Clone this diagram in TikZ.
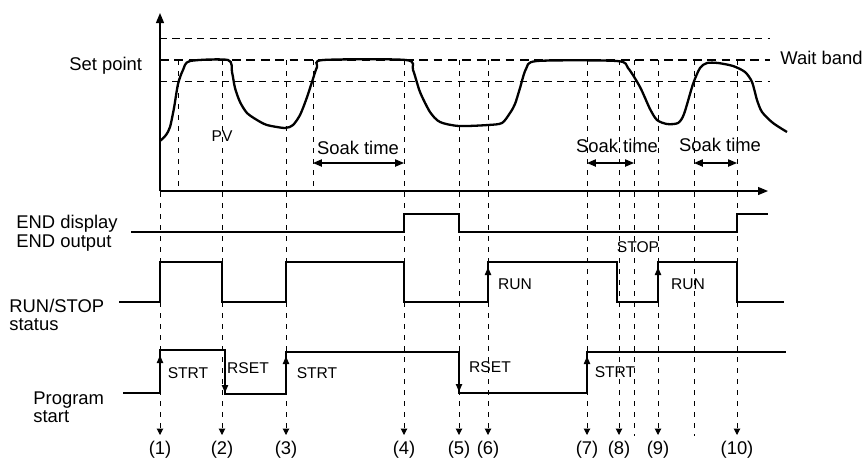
\documentclass[tikz,border=0pt]{standalone}
\usepackage{fontspec}
\setmainfont{Liberation Sans}
\usepackage{tikz}
\usetikzlibrary{arrows.meta}
\tikzset{
  sig/.style={line width=1.15pt, line join=miter},
  sigarrow/.style={line width=1.15pt, -{Triangle[length=4pt, width=3pt]}},
  guide/.style={line width=0.5pt, dash pattern=on 2.6pt off 2.9pt},
  marker/.style={guide, -{Triangle[length=3.2pt, width=3.2pt]}},
  band/.style={line width=0.5pt, dash pattern=on 3.6pt off 2.6pt},
  setline/.style={line width=0.9pt, dash pattern=on 4.4pt off 2.8pt},
  axis/.style={line width=0.6pt, -{Triangle[length=5pt, width=4pt]}},
  soak/.style={line width=0.6pt, {Triangle[length=4.4pt, width=3.6pt]}-{Triangle[length=4.4pt, width=3.6pt]}},
  biglbl/.style={font=\fontsize{9.2pt}{10pt}\selectfont, inner sep=0pt},
  smalllbl/.style={font=\fontsize{7.8pt}{9pt}\selectfont, inner sep=0pt},
}
\begin{document}
\begin{tikzpicture}[x=0.5pt, y=-0.5pt]
  \useasboundingbox (0,0) rectangle (865,457);
  % bands and axes
  \draw[band] (160,38) -- (770,38);
  \draw[setline] (160,60) -- (770,60);
  \draw[band] (160,81) -- (770,81);
  \draw[axis] (160,191) -- (160,13);
  \draw[axis] (160,191) -- (768,191);
  \node[biglbl, anchor=base west] (setpt) at (69,70) {Set point};
  \node[biglbl, anchor=base west] (waitband) at (780,64) {Wait band};
  % event guides
  \foreach \x in {178, 313} \draw[guide] (\x,60) -- (\x,191);
  \foreach \x in {634, 694} \draw[guide] (\x,60) -- (\x,436);
  \foreach \x/\n in {160/1, 222/2, 286/3, 404/4, 459/5, 488/6, 587/7, 619/8, 658/9, 737/10} {
    \draw[marker] (\x,60) -- (\x,435);
    \node[biglbl, anchor=base] (ev\n) at (\x,454) {(\n)};
  }
  % PV curve
  \draw[sig] plot[smooth, tension=0.45] coordinates {
    (160,141) (166,135) (170,127) (174,108) (178,84) (183,70) (190,61) (228,60)
    (232,72) (235,88) (240,102) (247,113) (257,120) (267,125) (285,128) (293,125)
    (300,115) (306,100) (312,82) (317,67) (323,60) (406,60) (413,70) (420,92)
    (430,112) (440,122) (459,126) (488,125) (502,123) (510,113) (515,104) (520,88)
    (526,69) (537,61) (617,61) (628,68) (640,87) (650,109) (657,120) (667,124)
    (678,123) (684,114) (693,84) (700,68) (707,63) (718,63) (733,66) (745,72)
    (752,82) (757,100) (762,112) (773,123) (787,132)};
  \node[smalllbl] (pvlbl) at (222,136) {PV};
  \node[biglbl] (soakA) at (358,148) {Soak time};
  \node[biglbl] (soakB) at (617,146) {Soak time};
  \node[biglbl] (soakC) at (720,145) {Soak time};
  \draw[soak] (313,163) -- (404,163);
  \draw[soak] (587,163) -- (634,163);
  \draw[soak] (694,163) -- (737,163);
  % END display / END output
  \node[biglbl, anchor=base west] (endA) at (16,228) {END display};
  \node[biglbl, anchor=base west] (endB) at (16,247) {END output};
  \draw[sig] (131,232) -- (404,232) -- (404,214) -- (459,214) -- (459,232)
    -- (737,232) -- (737,214) -- (768,214);
  % RUN/STOP status
  \node[biglbl, anchor=base west] (runA) at (9,312) {RUN/STOP};
  \node[biglbl, anchor=base west] (runB) at (9,330) {status};
  \draw[sig] (119,302) -- (160,302) -- (160,262) -- (222,262) -- (222,302)
    -- (286,302) -- (286,262) -- (404,262) -- (404,302) -- (488,302) -- (488,262)
    -- (617,262) -- (617,302) -- (658,302) -- (658,262) -- (737,262) -- (737,302)
    -- (784,302);
  \draw[sigarrow] (488,302) -- (488,267);
  \draw[sigarrow] (658,302) -- (658,267);
  \node[smalllbl] (runC) at (515,284) {RUN};
  \node[smalllbl] (stopA) at (638,247) {STOP};
  \node[smalllbl] (runD) at (688,284) {RUN};
  % Program start
  \node[biglbl, anchor=base west] (progA) at (33,404) {Program};
  \node[biglbl, anchor=base west] (progB) at (33,422) {start};
  \draw[sig] (123,393) -- (160,393) -- (160,350) -- (225,350) -- (225,394)
    -- (286,394) -- (286,352) -- (459,352) -- (459,393) -- (587,393) -- (587,352)
    -- (786,352);
  \draw[sigarrow] (160,393) -- (160,355);
  \draw[sigarrow] (225,350) -- (225,393);
  \draw[sigarrow] (286,394) -- (286,356);
  \draw[sigarrow] (459,352) -- (459,392);
  \draw[sigarrow] (587,393) -- (587,356);
  \node[smalllbl] (strtA) at (188,373) {STRT};
  \node[smalllbl] (rsetA) at (248,368) {RSET};
  \node[smalllbl] (strtB) at (317,373) {STRT};
  \node[smalllbl] (rsetB) at (490,367) {RSET};
  \node[smalllbl] (strtC) at (615,372) {STRT};
\end{tikzpicture}
\end{document}
